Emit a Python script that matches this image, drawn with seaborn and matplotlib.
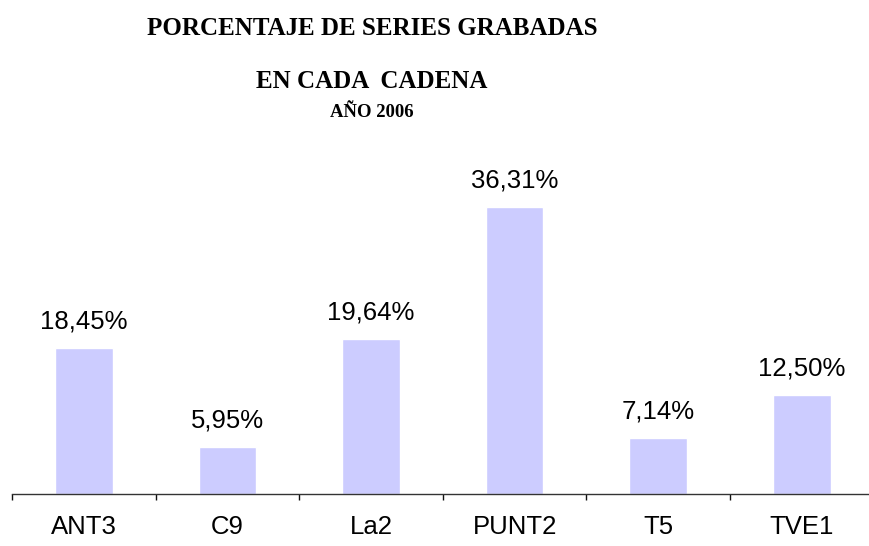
import numpy as np
import pandas as pd
import matplotlib
matplotlib.use('Agg')
import matplotlib.pyplot as plt
import seaborn as sns

# datos del grafico
cadenas = ['ANT3', 'C9', 'La2', 'PUNT2', 'T5', 'TVE1']
porcentajes = [18.45, 5.95, 19.64, 36.31, 7.14, 12.50]
etiquetas = ['18,45%', '5,95%', '19,64%', '36,31%', '7,14%', '12,50%']

df = pd.DataFrame({'cadena': cadenas, 'pct': porcentajes})

sns.set_style('white')
plt.rcParams['font.family'] = ['Liberation Sans', 'DejaVu Sans']
plt.rcParams['text.color'] = 'black'
plt.rcParams['xtick.color'] = 'black'
plt.rcParams['xtick.labelcolor'] = 'black'

fig = plt.figure(figsize=(8.69, 5.46), dpi=100)
# axes runs a little past the right edge, like the original
ax = fig.add_axes([12/869, 52/546, 6*143.6/869, 50*7.9/546])

sns.barplot(data=df, x='cadena', y='pct', color='#CCCCFF', width=0.4,
            saturation=1, ax=ax)

ax.set_xlim(-0.5, 5.5)
ax.set_ylim(0, 50)

for i, (v, t) in enumerate(zip(porcentajes, etiquetas)):
    ax.annotate(t, (i, v), xytext=(0, 14), textcoords='offset points',
                ha='center', va='baseline', fontsize=18.5, color='black')

for s in ['left', 'right', 'top']:
    ax.spines[s].set_visible(False)
ax.spines['bottom'].set_color('#333333')
ax.spines['bottom'].set_linewidth(1.0)

ax.set_yticks([])
ax.set_xlabel('')
ax.set_ylabel('')
ax.set_xticks(range(len(cadenas)))
ax.set_xticklabels(cadenas, fontsize=18.5, color='black')
ax.tick_params(axis='x', which='major', length=0, pad=15)
ax.set_xticks(np.arange(-0.5, 5.5, 1.0), minor=True)
ax.tick_params(axis='x', which='minor', length=4, width=1, color='#111111',
               direction='out', bottom=True)

# titulo
serif = ['Liberation Serif', 'DejaVu Serif']
tx = 372/869
fig.text(tx, 1 - 35/546, 'PORCENTAJE DE SERIES GRABADAS', ha='center',
         va='baseline', fontsize=18, fontweight='bold', family=serif, color='black')
fig.text(tx, 1 - 88/546, 'EN CADA  CADENA', ha='center',
         va='baseline', fontsize=18, fontweight='bold', family=serif, color='black')
fig.text(tx, 1 - 117/546, 'AÑO 2006', ha='center',
         va='baseline', fontsize=13.5, fontweight='bold', family=serif, color='black')

fig.savefig('out.png', dpi=100)
